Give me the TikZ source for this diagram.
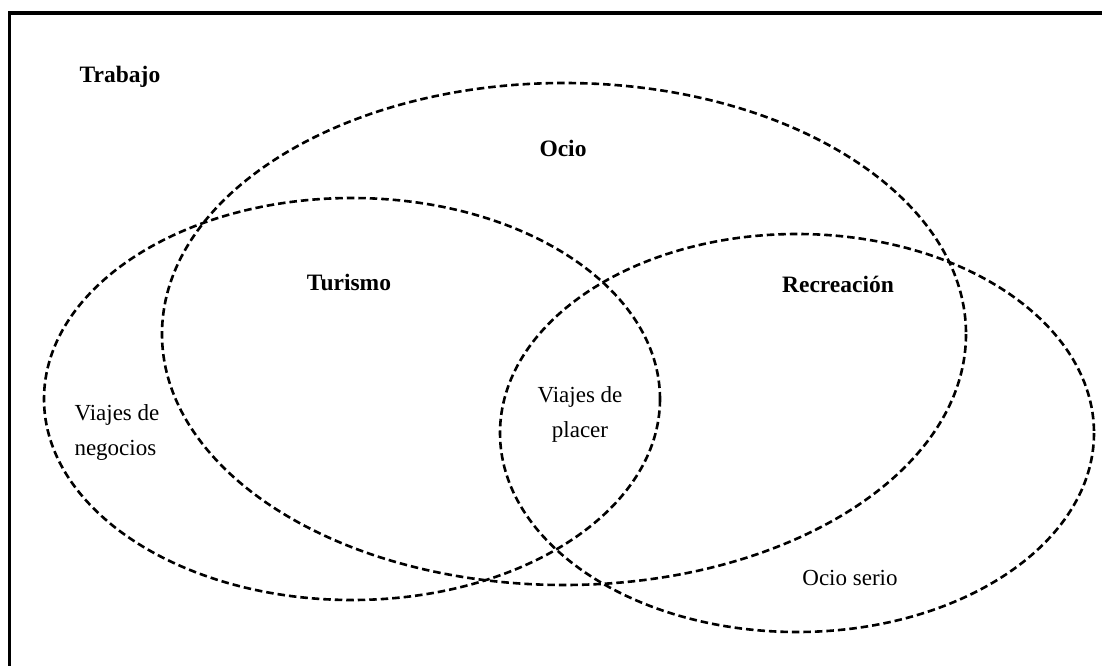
\documentclass[tikz,border=0pt]{standalone}
\usepackage{fontspec}
\setmainfont{Liberation Serif}
\begin{document}
\begin{tikzpicture}[x=1pt,y=-1pt,
  frame/.style={line width=3.5pt},
  setline/.style={line width=2.6pt,dash pattern=on 7.5pt off 4pt},
  title/.style={font=\bfseries\fontsize{23.5}{28}\selectfont},
  label/.style={font=\fontsize{23}{35}\selectfont,align=center},
]
\useasboundingbox (0,0) rectangle (1102,666);
% frame (top and left edges)
\draw[frame] (9.5,666) -- (9.5,13) -- (1102,13);
% sets
\draw[setline] (564,334) ellipse [x radius=402, y radius=251];
\draw[setline] (352,399) ellipse [x radius=308, y radius=201];
\draw[setline] (797,433) ellipse [x radius=297, y radius=199];
% labels
\node[title] (trabajo) at (120,77) {Trabajo};
\node[title] (ocio) at (563,148) {Ocio};
\node[title] (turismo) at (349,282) {Turismo};
\node[title] (recreacion) at (838,284) {Recreación};
\node[label,align=left,anchor=west] (negocios) at (71,432) {Viajes de\\negocios};
\node[label] (placer) at (580,414) {Viajes de\\placer};
\node[label] (serio) at (850,578) {Ocio serio};
\end{tikzpicture}
\end{document}
